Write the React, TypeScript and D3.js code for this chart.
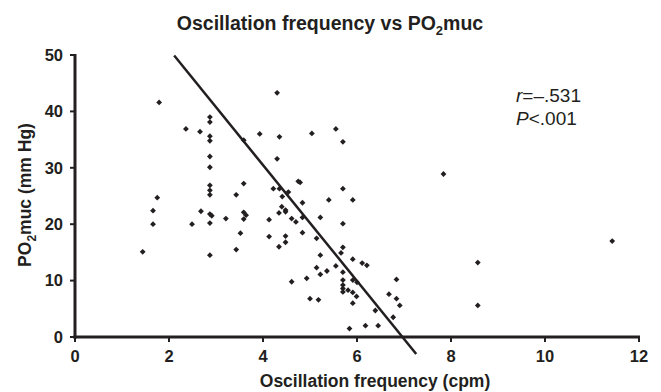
import React from "react";
import * as d3 from "d3";

const freq: number[] = [1.44,1.66,1.66,1.75,1.79,2.36,2.49,2.66,2.68,2.87,2.87,2.87,2.87,2.87,2.87,2.87,2.87,2.87,2.87,2.91,2.87,2.87,3.21,3.43,3.43,3.52,3.59,3.59,3.59,3.64,3.59,3.93,4.30,4.35,4.30,4.22,4.35,4.54,4.41,4.75,4.79,4.84,4.40,4.48,4.48,4.34,4.13,4.61,4.70,4.84,5.22,4.84,4.13,4.48,4.48,4.34,5.04,5.55,5.70,5.70,5.40,5.91,5.70,5.14,5.70,5.66,5.22,5.91,6.11,6.21,5.55,5.14,5.36,5.22,5.70,4.61,4.93,5.70,5.91,6.00,5.70,5.70,5.70,5.81,5.91,5.99,5.91,5.00,5.18,6.84,6.68,6.84,6.91,6.39,6.77,6.18,6.45,5.84,7.84,8.57,8.57,11.43];
const po2: number[] = [15.1,22.4,20.0,24.7,41.6,36.9,20.0,36.4,22.3,39.0,38.1,35.6,34.8,32.0,30.1,26.9,26.0,25.2,21.8,21.5,20.2,14.5,21.0,25.2,15.5,18.4,34.9,27.2,22.1,21.6,20.9,36.0,43.3,35.5,31.6,26.3,26.3,25.7,24.9,27.6,27.4,23.8,23.1,22.5,22.2,22.0,20.8,21.0,20.4,21.2,21.2,18.5,17.8,17.9,16.8,16.0,36.1,36.9,34.6,26.3,24.3,24.3,20.1,17.5,15.9,14.9,14.5,13.8,13.1,12.7,12.6,12.3,11.7,11.1,11.5,9.8,10.4,10.1,10.1,9.7,9.2,8.6,8.0,8.3,7.9,7.2,6.0,6.8,6.6,10.2,7.6,6.8,5.6,4.7,3.5,2.0,2.0,1.5,28.9,13.2,5.6,17.0];
const xTicks: number[] = [0, 2, 4, 6, 8, 10, 12];
const yTicks: number[] = [0, 10, 20, 30, 40, 50];
const fitX: number[] = [2.11, 7.26];
const fitY: number[] = [49.9, -3.0];

const W = 661, H = 392;
const L = 75, R = 639, T = 55, B = 337;
const FONT = "'Liberation Sans', Arial, sans-serif";
const INK = "#231f20";

export default function App() {
  const x = d3.scaleLinear().domain([0, 12]).range([L, R]);
  const y = d3.scaleLinear().domain([0, 50]).range([B, T]);
  const diamond = (cx: number, cy: number) => {
    const r = 2.9;
    return `M${cx},${cy - r}L${cx + r},${cy}L${cx},${cy + r}L${cx - r},${cy}Z`;
  };
  const line = d3.line<number>().x((d) => x(fitX[d])).y((d) => y(fitY[d]));
  return (
    <svg width={W} height={H} style={{ position: "absolute", left: 0, top: 0, background: "#fff" }} fontFamily={FONT}>
      <rect width={W} height={H} fill="#fff" />
      <text x={330} y={29.5} textAnchor="middle" fontWeight="bold" fontSize={19.5} fill={INK}>
        Oscillation frequency vs PO<tspan fontSize={13} dy={5}>2</tspan><tspan dy={-5}>muc</tspan>
      </text>
      {/* axes */}
      <line x1={L} x2={L} y1={T - 1} y2={B + 1.5} stroke={INK} strokeWidth={3} />
      <line x1={L - 1.5} x2={R + 1} y1={B} y2={B} stroke={INK} strokeWidth={3} />
      {yTicks.map((t) => (
        <g key={"y" + t}>
          <line x1={L - 5} x2={L} y1={y(t)} y2={y(t)} stroke={INK} strokeWidth={2} />
          <text x={63} y={y(t) + 5.7} textAnchor="end" fontWeight="bold" fontSize={16.5} fill={INK}>{t}</text>
        </g>
      ))}
      {xTicks.map((t) => (
        <g key={"x" + t}>
          <line x1={x(t)} x2={x(t)} y1={B} y2={B + 5} stroke={INK} strokeWidth={2} />
          <text x={x(t)} y={362} textAnchor="middle" fontWeight="bold" fontSize={16.5} fill={INK}>{t}</text>
        </g>
      ))}
      <text x={375} y={387} textAnchor="middle" fontWeight="bold" fontSize={17.5} fill={INK}>Oscillation frequency (cpm)</text>
      <text transform={`translate(31,195) rotate(-90)`} textAnchor="middle" fontWeight="bold" fontSize={17.5} fill={INK}>
        PO<tspan fontSize={12} dy={5}>2</tspan><tspan dy={-5}>muc (mm Hg)</tspan>
      </text>
      <path d={line([0, 1]) || ""} stroke={INK} strokeWidth={2.5} fill="none" />
      {freq.map((f, i) => (
        <path key={i} d={diamond(x(f), y(po2[i]))} fill={INK} />
      ))}
      <text x={516} y={101.5} fontSize={19} fill={INK}>
        <tspan fontStyle="italic">r</tspan>=–.531
      </text>
      <text x={516} y={125} fontSize={19} fill={INK}>
        <tspan fontStyle="italic">P</tspan>&lt;.001
      </text>
    </svg>
  );
}
